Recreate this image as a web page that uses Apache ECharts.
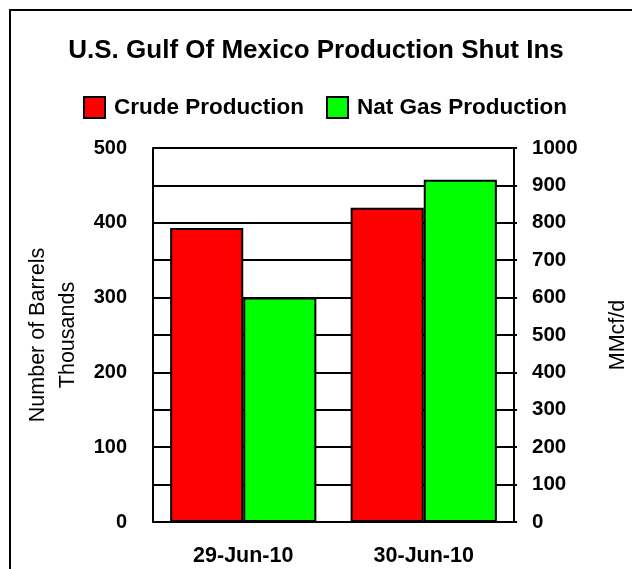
<!DOCTYPE html>
<html><head><meta charset="utf-8">
<script src="https://cdn.jsdelivr.net/npm/echarts@6/dist/echarts.min.js"></script>
<style>html,body{margin:0;padding:0;background:#fff}#c{width:632px;height:569px}</style>
</head><body><div id="c"></div>
<script>
const categories = ['29-Jun-10', '30-Jun-10'];
const crudeProduction = [393, 420];
const natGasProduction = [600, 915];
const leftTicks = [0, 100, 200, 300, 400, 500];
const rightTicks = [0, 100, 200, 300, 400, 500, 600, 700, 800, 900, 1000];

const FONT = '"Liberation Sans", Arial, sans-serif';
const chart = echarts.init(document.getElementById('c'), null, {renderer: 'canvas'});
chart.setOption({
  animation: false,
  backgroundColor: '#fff',
  textStyle: {fontFamily: FONT},
  title: {
    text: 'U.S. Gulf Of Mexico Production Shut Ins',
    left: 'center', top: 33,
    textStyle: {fontFamily: FONT, fontSize: 26, fontWeight: 'bold', color: '#000'}
  },
  legend: {
    top: 91, left: 78,
    itemWidth: 21, itemHeight: 21, itemGap: 22,
    icon: 'rect',
    textStyle: {fontFamily: FONT, fontSize: 22.5, fontWeight: 'bold', color: '#000', padding: [0, 0, 0, 4]},
    data: ['Crude Production', 'Nat Gas Production']
  },
  graphic: [{
    type: 'rect', shape: {x: 10, y: 10, width: 640, height: 600},
    style: {fill: 'none', stroke: '#000', lineWidth: 2}, silent: true
  }],
  grid: {left: 153, right: 118, top: 148, bottom: 47, containLabel: false, outerBoundsMode: 'none'},
  xAxis: {
    type: 'category', data: categories,
    axisLine: {lineStyle: {color: '#000', width: 2}},
    axisTick: {show: false},
    axisLabel: {fontFamily: FONT, fontSize: 21.5, fontWeight: 'bold', color: '#000', margin: 23}
  },
  yAxis: [{
    type: 'value', min: leftTicks[0], max: leftTicks[leftTicks.length - 1], interval: 100,
    name: 'Number of Barrels\nThousands', nameLocation: 'middle', nameRotate: 90, nameGap: 70,
    nameTextStyle: {fontFamily: FONT, fontSize: 21.5, color: '#000', lineHeight: 30},
    axisLine: {show: true, lineStyle: {color: '#000', width: 2}},
    axisTick: {show: false},
    splitLine: {show: false},
    axisLabel: {fontFamily: FONT, fontSize: 20, fontWeight: 'bold', color: '#000', margin: 26}
  }, {
    type: 'value', min: rightTicks[0], max: rightTicks[rightTicks.length - 1], interval: 100,
    name: 'MMcf/d', nameLocation: 'middle', nameRotate: 90, nameGap: 93,
    nameTextStyle: {fontFamily: FONT, fontSize: 21.5, color: '#000'},
    axisLine: {show: true, lineStyle: {color: '#000', width: 2}},
    axisTick: {show: true, length: 3, lineStyle: {color: '#000', width: 2}},
    splitLine: {show: true, lineStyle: {color: '#000', width: 2}},
    axisLabel: {fontFamily: FONT, fontSize: 20.5, fontWeight: 'bold', color: '#000', margin: 18,
      formatter: v => String(v)}
  }],
  series: [{
    name: 'Crude Production', type: 'bar', yAxisIndex: 0, data: crudeProduction,
    barGap: '0%', barCategoryGap: '19%',
    itemStyle: {color: '#ff0000', borderColor: '#000', borderWidth: 2}
  }, {
    name: 'Nat Gas Production', type: 'bar', yAxisIndex: 1, data: natGasProduction,
    barGap: '0%', barCategoryGap: '19%',
    itemStyle: {color: '#00ff00', borderColor: '#000', borderWidth: 2}
  }]
});
</script></body></html>
